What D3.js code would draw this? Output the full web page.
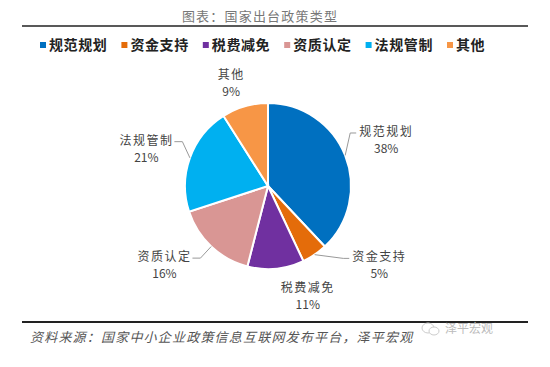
<!DOCTYPE html>
<html>
<head>
<meta charset="utf-8">
<script src="https://cdn.jsdelivr.net/npm/d3@7"></script>
<style>
  body { margin: 0; background: #fff; }
  svg { display: block; font-family: "Noto Sans CJK SC", "Noto Sans", sans-serif; }
</style>
</head>
<body>
<div id="container"></div>
<script>
// data
const categories = ['规范规划', '资金支持', '税费减免', '资质认定', '法规管制', '其他'];
const shares = [38, 5, 11, 16, 21, 9];
const colors = ['#0070C0', '#E46C0A', '#7030A0', '#D99694', '#00B0F0', '#F79646'];
const hasLeader = [true, true, false, true, true, false];

// label nudges off the radial position (layout only)
const labelNudge = [[2, 0], [41, -24], [28, -14], [-18, -12], [-4, 5], [-2, 17]];

const w = 550;
const h = 367;
const cx = 268;
const cy = 186;
const r = 83;

const svg = d3.select('#container')
              .append('svg')
              .attr('width', w)
              .attr('height', h);

// title
svg.append('text')
   .attr('x', 260)
   .attr('y', 21)
   .attr('text-anchor', 'middle')
   .attr('font-size', 13)
   .attr('letter-spacing', 1.2)
   .attr('fill', '#777')
   .text('图表：国家出台政策类型');

svg.append('line')
   .attr('x1', 22).attr('x2', 528)
   .attr('y1', 26).attr('y2', 26)
   .attr('stroke', '#222')
   .attr('stroke-width', 1.6);

// legend
const legendX = d3.scalePoint()
                  .domain(categories)
                  .range([40, 447]);

const legend = svg.selectAll('.legend')
                  .data(categories)
                  .enter()
                  .append('g')
                  .attr('class', 'legend')
                  .attr('transform', (d) => `translate(${legendX(d)}, 46)`);

legend.append('rect')
      .attr('x', 0)
      .attr('y', -4)
      .attr('width', 6)
      .attr('height', 6)
      .attr('fill', (d, i) => colors[i]);

legend.append('text')
      .attr('x', 9)
      .attr('y', 4)
      .attr('font-size', 14)
      .attr('font-weight', 'bold')
      .attr('letter-spacing', 0.6)
      .attr('fill', '#222')
      .text((d) => d);

// pie
const pie = d3.pie().sort(null).value((d) => d);
const arcs = pie(shares);
const arc = d3.arc().innerRadius(0).outerRadius(r);

const g = svg.append('g')
             .attr('transform', `translate(${cx}, ${cy})`);

g.selectAll('path')
 .data(arcs)
 .enter()
 .append('path')
 .attr('d', arc)
 .attr('fill', (d, i) => colors[i])
 .attr('stroke', '#fff')
 .attr('stroke-width', 2);

// labels
const midAngle = (d) => (d.startAngle + d.endAngle) / 2;
const polar = (a, rad) => [rad * Math.sin(a), -rad * Math.cos(a)];

arcs.forEach((d, i) => {
  const a = midAngle(d);
  const p = polar(a, 125);
  const lx = p[0] + labelNudge[i][0];
  const ly = p[1] + labelNudge[i][1];

  const label = g.append('g');
  const name = label.append('text')
                    .attr('x', lx)
                    .attr('y', ly - 4)
                    .attr('text-anchor', 'middle')
                    .attr('font-size', 12)
                    .attr('letter-spacing', 1.5)
                    .attr('fill', '#444')
                    .text(categories[i]);
  label.append('text')
       .attr('x', lx)
       .attr('y', ly + 13)
       .attr('text-anchor', 'middle')
       .attr('font-size', 12)
       .attr('fill', '#444')
       .text(shares[i] + '%');

  if (hasLeader[i]) {
    const halfW = name.node().getComputedTextLength() / 2;
    const right = lx > 0;
    const p0 = polar(a, r);
    const ex = right ? lx - halfW - 3 : lx + halfW + 1;
    const ey = ly - 7;
    const bx = right ? ex - 6 : ex + 8;
    g.append('polyline')
     .attr('points', [p0, [bx, ey], [ex, ey]].map((q) => q.join(',')).join(' '))
     .attr('fill', 'none')
     .attr('stroke', '#999')
     .attr('stroke-width', 1);
  }
});

// footer
svg.append('line')
   .attr('x1', 22).attr('x2', 528)
   .attr('y1', 322).attr('y2', 322)
   .attr('stroke', '#222')
   .attr('stroke-width', 1.8);

svg.append('text')
   .attr('x', 30)
   .attr('y', 342)
   .attr('font-size', 13)
   .attr('font-style', 'italic')
   .attr('letter-spacing', 1.2)
   .attr('fill', '#555')
   .text('资料来源：国家中小企业政策信息互联网发布平台，泽平宏观');

// watermark
const wm = svg.append('g').attr('transform', 'translate(428, 328)');
wm.append('ellipse').attr('cx', 0).attr('cy', 0).attr('rx', 6).attr('ry', 5)
  .attr('fill', 'none').attr('stroke', '#ccc').attr('stroke-width', 1);
wm.append('ellipse').attr('cx', 6).attr('cy', 3).attr('rx', 5).attr('ry', 4)
  .attr('fill', '#fff').attr('stroke', '#ccc').attr('stroke-width', 1);
wm.append('text')
  .attr('x', 17)
  .attr('y', 5)
  .attr('font-size', 12)
  .attr('fill', '#bbb')
  .text('泽平宏观');
</script>
</body>
</html>
